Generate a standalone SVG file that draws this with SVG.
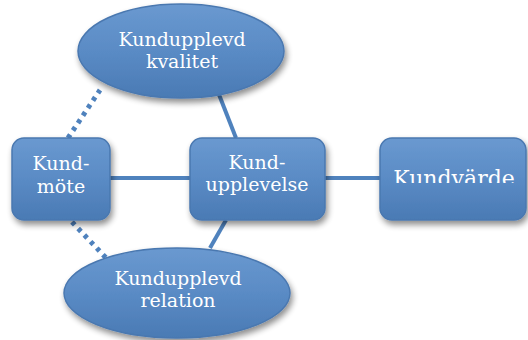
<svg xmlns="http://www.w3.org/2000/svg" width="528" height="340" viewBox="0 0 528 340">
<defs>
<linearGradient id="g" x1="0" y1="0" x2="0" y2="1">
<stop offset="0" stop-color="#6a99d0"/>
<stop offset="0.5" stop-color="#5a8bc5"/>
<stop offset="1" stop-color="#4a7ab4"/>
</linearGradient>
<filter id="sh" x="-20%" y="-20%" width="140%" height="150%">
<feGaussianBlur in="SourceAlpha" stdDeviation="3"/>
<feOffset dx="2" dy="4" result="b"/>
<feComponentTransfer><feFuncA type="linear" slope="0.45"/></feComponentTransfer>
<feMerge><feMergeNode/><feMergeNode in="SourceGraphic"/></feMerge>
</filter>
<clipPath id="kv"><rect x="380" y="138" width="148" height="45"/></clipPath>
</defs>
<style>
.n{fill:url(#g);stroke:#4a78b0;stroke-width:1.5;filter:url(#sh)}
.t{fill:#ffffff;font-family:"DejaVu Serif","Liberation Serif",serif;font-size:19px;text-anchor:middle}
.c{stroke:#4f82bd;stroke-width:4;fill:none}
.d{stroke:#4f82bd;stroke-width:5;fill:none;stroke-dasharray:4 5}
</style>
<g id="connectors">
<line class="c" x1="110" y1="178" x2="190" y2="178"/>
<line class="c" x1="325" y1="178" x2="380" y2="178"/>
<line class="c" x1="218" y1="92" x2="236" y2="138"/>
<line class="c" x1="226" y1="220" x2="210" y2="248"/>
<line class="d" x1="68" y1="138" x2="100" y2="90"/>
<line class="d" x1="72" y1="222" x2="108" y2="260"/>
</g>
<g id="kvalitet">
<ellipse class="n" cx="181" cy="51" rx="103" ry="47"/>
<text class="t" x="182" y="46">Kundupplevd</text>
<text class="t" x="182" y="68">kvalitet</text>
</g>
<g id="relation">
<ellipse class="n" cx="177" cy="293" rx="113" ry="45"/>
<text class="t" x="178" y="285">Kundupplevd</text>
<text class="t" x="178" y="307">relation</text>
</g>
<g id="kundmote">
<rect class="n" x="12" y="138" width="98" height="82" rx="12"/>
<text class="t" x="61" y="170">Kund-</text>
<text class="t" x="61" y="193">möte</text>
</g>
<g id="kundupplevelse">
<rect class="n" x="190" y="138" width="135" height="82" rx="12"/>
<text class="t" x="257" y="169">Kund-</text>
<text class="t" x="257" y="191">upplevelse</text>
</g>
<g id="kundvarde">
<rect class="n" x="380" y="138" width="146" height="82" rx="12"/>
<text class="t" x="454" y="186" clip-path="url(#kv)" style="font-size:22px">Kundvärde</text>
</g>
</svg>
